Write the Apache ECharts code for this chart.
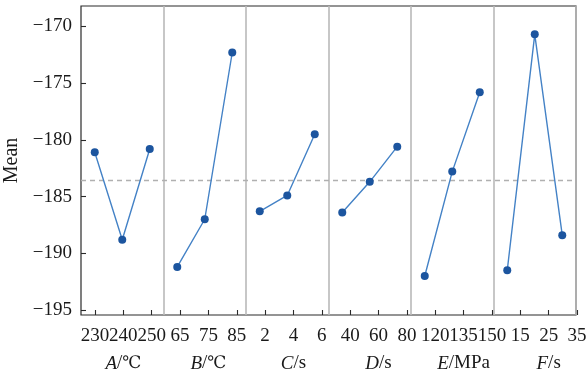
<!DOCTYPE html>
<html>
<head>
<meta charset="utf-8">
<script src="https://cdn.jsdelivr.net/npm/echarts@6/dist/echarts.min.js"></script>
<style>
  html, body { margin: 0; padding: 0; background: #fff; }
  #chart { width: 587px; height: 375px; }
</style>
</head>
<body>
<div id="chart"></div>
<script>
// Main effects of each factor on the mean response
const factorLetters = ['A', 'B', 'C', 'D', 'E', 'F'];
const factorUnits = ['℃', '℃', 's', 's', 'MPa', 's'];
const levelLabels = ['230', '240', '250', '65', '75', '85', '2', '4', '6',
                     '40', '60', '80', '120', '135', '150', '15', '25', '35'];
const meanA = [-181.1, -188.8, -180.8];
const meanB = [-191.2, -187.0, -172.3];
const meanC = [-186.3, -184.9, -179.5];
const meanD = [-186.4, -183.7, -180.6];
const meanE = [-192.0, -182.8, -175.8];
const meanF = [-191.5, -170.7, -188.4];
const yTickValues = [-195, -190, -185, -180, -175, -170];

const factorMeans = [meanA, meanB, meanC, meanD, meanE, meanF];
const allValues = factorMeans.flat();
const grandMean = allValues.reduce((s, v) => s + v, 0) / allValues.length;

const FONT = '"Liberation Serif", "DejaVu Serif", serif';
const LINE_COLOR = '#4482c6';
const MARK_COLOR = '#1c559f';

// one slot per factor level along the shared horizontal axis
const slots = levelLabels.map((_, i) => 'L' + i);

const series = factorMeans.map((vals, f) => {
  const data = slots.map(() => null);
  vals.forEach((v, k) => { data[f * 3 + k] = v; });
  const s = {
    type: 'line',
    xAxisIndex: 0,
    yAxisIndex: 0,
    data: data,
    connectNulls: false,
    symbol: 'circle',
    symbolSize: 8,
    lineStyle: { color: LINE_COLOR, width: 1.4 },
    itemStyle: { color: MARK_COLOR },
    z: 5,
    silent: true
  };
  if (f === 0) {
    s.markLine = {
      silent: true,
      symbol: 'none',
      label: { show: false },
      lineStyle: { color: '#b0b0b0', type: [5, 4], width: 1.3 },
      data: [{ yAxis: grandMean }]
    };
  }
  return s;
});

const minus = v => (v < 0 ? '\u2212' + Math.abs(v) : String(v));

const chart = echarts.init(document.getElementById('chart'), null, { renderer: 'canvas' });
chart.setOption({
  animation: false,
  backgroundColor: '#ffffff',
  textStyle: { fontFamily: FONT },
  grid: [
    { left: 81, right: 11, top: 6, bottom: 60, show: true, outerBoundsMode: 'none', containLabel: false,
      borderColor: '#2a2a2a', borderWidth: 1.2, backgroundColor: 'transparent' },
    { left: 95, right: 10, top: 6, bottom: 60, show: false, outerBoundsMode: 'none', containLabel: false }
  ],
  xAxis: [
    {
      type: 'category', gridIndex: 0, data: slots, boundaryGap: true,
      axisLine: { show: false }, axisTick: { show: false }, axisLabel: { show: false },
      splitLine: {
        show: true,
        interval: (i) => i > 0 && i % 3 === 0,
        lineStyle: { color: '#b9b9b9', width: 1.6 }
      }
    },
    {
      type: 'category', gridIndex: 1, data: levelLabels, boundaryGap: false,
      axisLine: { show: false },
      axisTick: { show: true, inside: true, length: 5, alignWithLabel: true,
                  lineStyle: { color: '#2a2a2a', width: 1.1 } },
      axisLabel: {
        interval: 0, margin: 8, fontFamily: FONT, fontSize: 19, color: '#1a1a1a',
        lineHeight: 27,
        formatter: (v, i) => {
          if (i % 3 === 1) {
            const f = (i - 1) / 3;
            const unit = factorUnits[f] === '℃' ? '{deg|℃}' : factorUnits[f];
            return v + '\n{it|' + factorLetters[f] + '}/' + unit;
          }
          return v;
        },
        rich: {
          it: { fontFamily: FONT, fontStyle: 'italic', fontSize: 19, color: '#1a1a1a', lineHeight: 27 },
          deg: { fontFamily: '"DejaVu Serif", serif', fontSize: 17, color: '#1a1a1a', lineHeight: 27 }
        }
      },
      splitLine: { show: false }
    }
  ],
  yAxis: [
    {
      type: 'value', gridIndex: 0, min: -195.44, max: -168.2,
      name: 'Mean', nameLocation: 'middle', nameGap: 54,
      nameTextStyle: { fontFamily: FONT, fontSize: 20, color: '#1a1a1a' },
      axisLine: { show: false },
      axisTick: { show: true, inside: true, length: 5,
                  lineStyle: { color: '#2a2a2a', width: 1.1 } },
      axisLabel: {
        margin: 9, fontFamily: FONT, fontSize: 19, color: '#1a1a1a',
        showMinLabel: false, showMaxLabel: false,
        formatter: (v) => (yTickValues.some(t => Math.abs(t - v) < 1e-6) ? minus(v) : '')
      },
      splitLine: { show: false }
    },
    {
      type: 'value', gridIndex: 1, show: false, min: 0, max: 1
    }
  ],
  series: series
});
</script>
</body>
</html>
